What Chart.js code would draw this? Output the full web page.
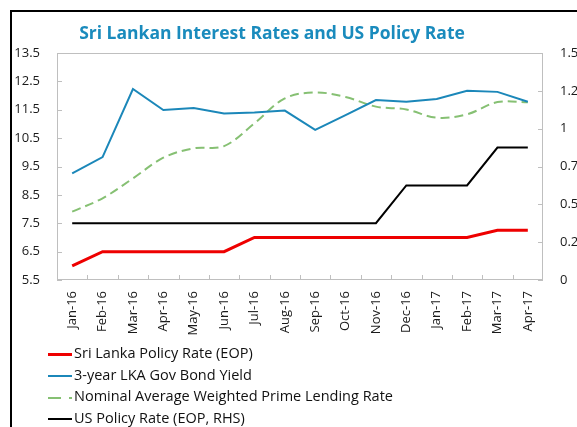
<!DOCTYPE html>
<html>
<head>
<meta charset="utf-8">
<script src="https://cdn.jsdelivr.net/npm/chart.js"></script>
<style>
  html, body { margin: 0; padding: 0; background: #fff; }
  body { width: 577px; height: 427px; overflow: hidden; position: relative; font-family: "Open Sans", sans-serif; }
  #frame { position: absolute; left: 10px; top: 10px; width: 600px; height: 500px; border-top: 2px solid #000; border-left: 2px solid #000; }
  #title { position: absolute; left: 0; top: 20px; width: 544px; text-align: center; font: bold 17.5px "Open Sans", sans-serif; color: #1a8bbd; line-height: 24px; }
  #chartBox { position: absolute; left: 0; top: 0; }
  #legend { position: absolute; left: 48px; top: 342px; font-size: 14.5px; color: #111; }
  #legend div { height: 21.7px; line-height: 21.7px; white-space: nowrap; }
  #legend span.swatch { display: inline-block; width: 24px; vertical-align: middle; margin-right: 2px; }
</style>
</head>
<body>
<div id="frame"></div>
<div id="chartBox"><canvas id="myChart" width="600" height="345"></canvas></div>
<div id="title">Sri Lankan Interest Rates and US Policy Rate</div>
<div id="legend"></div>
<script>
// categories
const months = ["Jan-16", "Feb-16", "Mar-16", "Apr-16", "May-16", "Jun-16", "Jul-16", "Aug-16",
  "Sep-16", "Oct-16", "Nov-16", "Dec-16", "Jan-17", "Feb-17", "Mar-17", "Apr-17"];

// series (left axis)
const slPolicy = [6.0, 6.5, 6.5, 6.5, 6.5, 6.5, 7.0, 7.0, 7.0, 7.0, 7.0, 7.0, 7.0, 7.0, 7.25, 7.25];
const bondYield = [9.26, 9.83, 12.23, 11.49, 11.56, 11.37, 11.40, 11.47, 10.79, 11.31, 11.84, 11.78, 11.88, 12.17, 12.13, 11.78];
const primeRate = [7.91, 8.38, 9.08, 9.81, 10.14, 10.22, 11.02, 11.90, 12.11, 11.95, 11.61, 11.51, 11.22, 11.34, 11.77, 11.76];
// series (right axis)
const usPolicy = [0.375, 0.375, 0.375, 0.375, 0.375, 0.375, 0.375, 0.375, 0.375, 0.375, 0.375, 0.625, 0.625, 0.625, 0.875, 0.875];

// tick labels
const leftTicks = [5.5, 6.5, 7.5, 8.5, 9.5, 10.5, 11.5, 12.5, 13.5];
const rightTicks = [0, 0.25, 0.5, 0.75, 1, 1.25, 1.5];

const seriesNames = ["Sri Lanka Policy Rate (EOP)", "3-year LKA Gov Bond Yield",
  "Nominal Average Weighted Prime Lending Rate", "US Policy Rate (EOP, RHS)"];

// plot frame and inward tick marks
const frameTicks = {
  id: "frameTicks",
  beforeDatasetsDraw(chart) {
    const { ctx, chartArea: a, scales } = chart;
    ctx.save();
    ctx.strokeStyle = "#bfbfbf";
    ctx.lineWidth = 1;
    ctx.strokeRect(a.left + 0.5, a.top + 0.5, a.right - a.left - 1, a.bottom - a.top - 1);
    ctx.beginPath();
    scales.y.ticks.forEach((t) => {
      const y = Math.round(scales.y.getPixelForValue(t.value)) + 0.5;
      ctx.moveTo(a.left, y); ctx.lineTo(a.left + 5, y);
    });
    scales.y1.ticks.forEach((t) => {
      const y = Math.round(scales.y1.getPixelForValue(t.value)) + 0.5;
      ctx.moveTo(a.right - 5, y); ctx.lineTo(a.right, y);
    });
    for (let i = 1; i < months.length; i++) {
      const x = Math.round((scales.x.getPixelForValue(i - 1) + scales.x.getPixelForValue(i)) / 2) + 0.5;
      ctx.moveTo(x, a.bottom); ctx.lineTo(x, a.bottom - 5);
    }
    ctx.stroke();
    ctx.restore();
  }
};

Chart.defaults.font.family = "'Open Sans', sans-serif";
Chart.defaults.font.size = 13;
Chart.defaults.color = "#1a1a1a";

var ctx = document.getElementById("myChart").getContext("2d");
var chart = new Chart(ctx, {
  type: "line",
  data: {
    labels: months,
    datasets: [
      { label: seriesNames[0], data: slPolicy, yAxisID: "y", borderColor: "#ee0000", borderWidth: 3, pointRadius: 0, tension: 0 },
      { label: seriesNames[1], data: bondYield, yAxisID: "y", borderColor: "#1b87b9", borderWidth: 2, pointRadius: 0, tension: 0 },
      { label: seriesNames[2], data: primeRate, yAxisID: "y", borderColor: "#86c073", borderWidth: 2, borderDash: [9, 5], pointRadius: 0, tension: 0.35 },
      { label: seriesNames[3], data: usPolicy, yAxisID: "y1", borderColor: "#000000", borderWidth: 2, pointRadius: 0, tension: 0 }
    ]
  },
  options: {
    responsive: false,
    animation: false,
    devicePixelRatio: 1,
    layout: { padding: { top: 53, left: 0, right: 0, bottom: 0 } },
    plugins: {
      legend: { display: false },
      tooltip: { enabled: false }
    },
    scales: {
      x: {
        offset: true,
        grid: { display: false, drawTicks: false },
        border: { display: false },
        ticks: { minRotation: 90, maxRotation: 90, padding: 11, autoSkip: false },
        afterFit: (s) => { s.height = 65; }
      },
      y: {
        position: "left",
        min: 5.5,
        max: 13.5,
        grid: { display: false, drawTicks: false },
        border: { display: false },
        ticks: { padding: 17 },
        afterBuildTicks: (s) => { s.ticks = leftTicks.map((v) => ({ value: v })); },
        afterFit: (s) => { s.width = 57; }
      },
      y1: {
        position: "right",
        min: 0,
        max: 1.5,
        grid: { display: false, drawTicks: false },
        border: { display: false },
        ticks: { padding: 17, callback: (v) => String(v) },
        afterBuildTicks: (s) => { s.ticks = rightTicks.map((v) => ({ value: v })); },
        afterFit: (s) => { s.width = 57; }
      }
    }
  },
  plugins: [frameTicks]
});

// legend, one entry per line
var legend = document.getElementById("legend");
chart.data.datasets.forEach((ds) => {
  var row = document.createElement("div");
  var sw = document.createElement("span");
  sw.className = "swatch";
  if (ds.borderDash) {
    sw.style.height = "2px";
    sw.style.background = "linear-gradient(to right, " + ds.borderColor + " 0 13px, transparent 13px 21px, " + ds.borderColor + " 21px 24px)";
  } else {
    sw.style.height = (ds.borderWidth > 2 ? 3 : 2) + "px";
    sw.style.background = ds.borderColor;
  }
  row.appendChild(sw);
  row.appendChild(document.createTextNode(ds.label));
  legend.appendChild(row);
});
</script>
</body>
</html>
